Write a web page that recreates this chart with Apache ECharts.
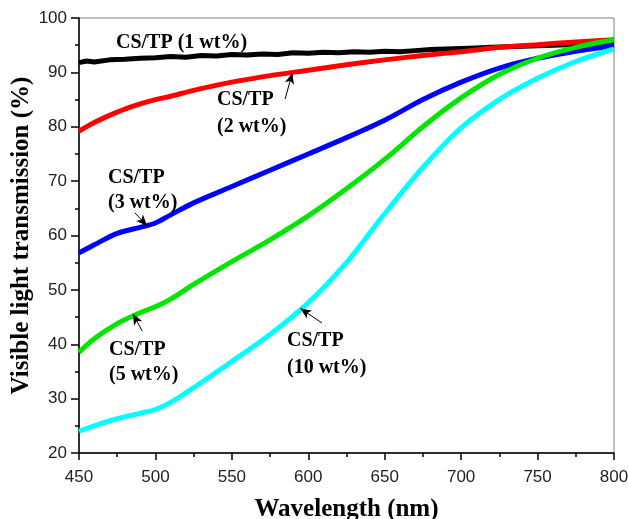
<!DOCTYPE html>
<html>
<head>
<meta charset="utf-8">
<script src="https://cdn.jsdelivr.net/npm/echarts@6/dist/echarts.min.js"></script>
<style>
  html, body { margin: 0; padding: 0; background: #fff; }
  #chart { width: 628px; height: 519px; }
</style>
</head>
<body>
<div id="chart"></div>
<script>
// wavelength grid (nm) for the smooth curves
const wl = [450, 460, 475, 490, 500, 510, 525, 550, 575, 600, 625, 650, 675, 700, 725, 750, 775, 800]
const tp2 = [79.2, 80.8, 82.7, 84.2, 85.0, 85.6, 86.7, 88.2, 89.4, 90.4, 91.4, 92.3, 93.1, 93.8, 94.6, 95.1, 95.6, 96.0]
const tp3 = [56.8, 58.3, 60.4, 61.5, 62.3, 63.8, 66.0, 69.0, 72.0, 75.0, 78.0, 81.2, 85.0, 88.2, 90.8, 92.6, 93.9, 94.9]
const tp5 = [38.5, 41.0, 43.8, 45.8, 46.9, 48.3, 51.0, 55.2, 59.2, 63.6, 68.6, 74.0, 80.0, 85.3, 89.6, 92.6, 94.6, 96.0]
const tp10 = [24.0, 25.0, 26.3, 27.3, 28.0, 29.3, 32.0, 36.8, 41.8, 47.6, 55.0, 64.0, 72.5, 79.8, 85.0, 88.9, 92.0, 94.3]

// 1 wt% is a noisy trace, sampled finer
const wl1 = [450, 455, 460, 470, 480, 490, 500, 510, 520, 530, 540, 550, 560, 570, 580, 590, 600, 610, 620, 630, 640, 650, 660, 670, 680, 690, 700, 710, 720, 730, 740, 750, 760, 770, 780, 790, 800]
const tp1 = [91.8, 92.1, 91.9, 92.3, 92.4, 92.6, 92.7, 92.9, 92.8, 93.1, 93.0, 93.3, 93.2, 93.4, 93.3, 93.6, 93.5, 93.7, 93.6, 93.8, 93.7, 93.9, 93.8, 94.0, 94.2, 94.3, 94.4, 94.5, 94.6, 94.7, 94.8, 94.9, 95.0, 95.1, 95.1, 95.2, 95.3]

const yTicks = [20, 100, 10]
const xTicks = [450, 800, 50]

const pairs = (xs, ys) => xs.map((x, i) => [x, ys[i]])

const myChart = echarts.init(document.getElementById('chart'))

const serif = '"Liberation Serif", "Times New Roman", serif'
const sans = '"Liberation Sans", Arial, sans-serif'

const arrowLine = (from, to) => [
  { coord: from, symbol: 'none' },
  { coord: to, symbol: 'arrow', symbolSize: [7, 11] },
]

const label = (text, x, y) => ({
  type: 'text',
  x: x,
  y: y,
  style: {
    text: text,
    font: 'bold 20px ' + serif,
    fill: '#000',
    verticalAlign: 'middle',
  },
  z: 100,
})

const line = (name, data, color, width) => ({
  name: name,
  type: 'line',
  data: data,
  smooth: 0.3,
  symbol: 'none',
  lineStyle: { color: color, width: width },
  z: 3,
})

const option = {
  animation: false,
  grid: {
    left: 79, right: 14, top: 18, bottom: 66,
    outerBoundsMode: 'none',
    show: true, borderColor: '#808080', borderWidth: 1,
  },
  xAxis: {
    type: 'value',
    min: xTicks[0], max: xTicks[1], interval: xTicks[2],
    name: 'Wavelength (nm)',
    nameLocation: 'middle',
    nameGap: 44,
    nameTextStyle: { fontFamily: serif, fontWeight: 'bold', fontSize: 25, color: '#000' },
    axisLine: { lineStyle: { color: '#000', width: 1.5 } },
    axisTick: { length: 7, lineStyle: { color: '#000', width: 1.5 } },
    minorTick: { show: true, splitNumber: 2, length: 4, lineStyle: { color: '#000', width: 1.5 } },
    axisLabel: { fontFamily: sans, fontSize: 17, color: '#222', margin: 16 },
    splitLine: { show: false },
  },
  yAxis: {
    type: 'value',
    min: yTicks[0], max: yTicks[1], interval: yTicks[2],
    name: 'Visible light transmission (%)',
    nameLocation: 'middle',
    nameGap: 45,
    nameMoveOverlap: false,
    nameTextStyle: { fontFamily: serif, fontWeight: 'bold', fontSize: 25, color: '#000' },
    axisLine: { show: true, lineStyle: { color: '#000', width: 1.5 } },
    axisTick: { show: true, length: 8, lineStyle: { color: '#000', width: 1.5 } },
    minorTick: { show: true, splitNumber: 2, length: 4, lineStyle: { color: '#000', width: 1.5 } },
    axisLabel: { fontFamily: sans, fontSize: 17, color: '#222', margin: 12 },
    splitLine: { show: false },
  },
  series: [
    Object.assign(line('1 wt%', pairs(wl1, tp1), '#000', 5), {
      smooth: false,
      markLine: {
        silent: true,
        lineStyle: { color: '#000', width: 1, type: 'solid' },
        label: { show: false },
        data: [
          arrowLine([584.8, 85.1], [589.6, 89.9]),
          arrowLine([486.4, 64.2], [494.6, 61.8]),
          arrowLine([491.4, 42.4], [485.3, 45.6]),
          arrowLine([609.0, 43.9], [594.8, 46.6]),
        ],
      },
    }),
    line('2 wt%', pairs(wl, tp2), '#ff0000', 5),
    line('3 wt%', pairs(wl, tp3), '#0000ff', 5),
    line('5 wt%', pairs(wl, tp5), '#00e600', 5),
    line('10 wt%', pairs(wl, tp10), '#00ffff', 5),
  ],
  graphic: [
    label('CS/TP (1 wt%)', 116, 43),
    label('CS/TP', 217, 100),
    label('(2 wt%)', 217, 127),
    label('CS/TP', 108, 178),
    label('(3 wt%)', 108, 203),
    label('CS/TP', 109, 350),
    label('(5 wt%)', 109, 375),
    label('CS/TP', 287, 341),
    label('(10 wt%)', 287, 368),
  ],
}
myChart.setOption(option)
</script>
</body>
</html>
